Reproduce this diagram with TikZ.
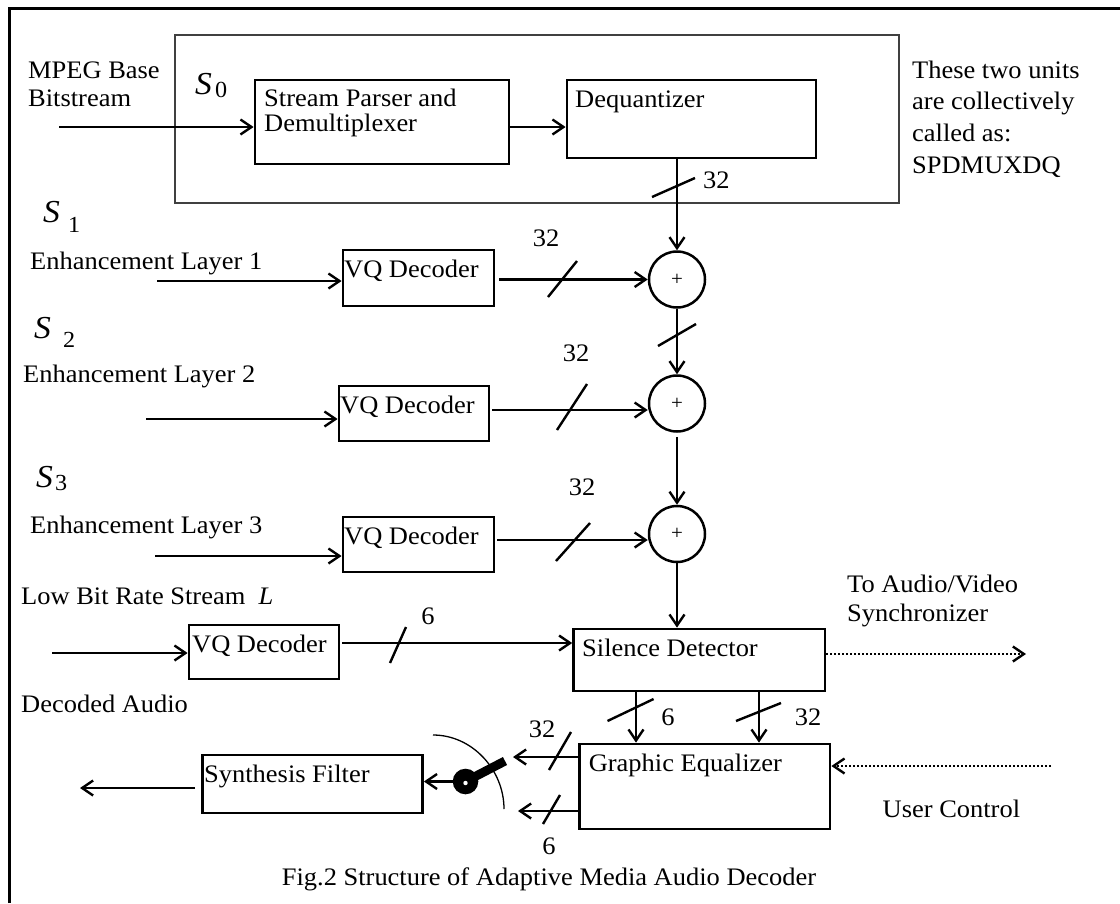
\documentclass[tikz,border=0pt]{standalone}
\usepackage{fontspec}
\setmainfont{Liberation Serif}[FakeStretch=1.05]
\usetikzlibrary{arrows.meta}
\newcommand\Slab[3]{{\itshape\fontsize{32}{32}\selectfont S}\kern#2\raisebox{#3}{\fontsize{23}{23}\selectfont #1}}
\begin{document}
\begin{tikzpicture}[x=1pt,y=-1pt,
  every node/.style={font=\fontsize{25.2}{30}\selectfont},
  box/.style={draw, line width=2.8pt, inner sep=0pt},
  sum/.style={draw, circle, line width=2.5pt, minimum size=56pt, inner sep=0pt, font=\fontsize{20}{20}\selectfont},
  txt/.style={anchor=base west, inner sep=0pt},
  lab/.style={anchor=center, inner sep=0pt},
  arr/.style={line width=2.4pt, -{Straight Barb[length=11pt,width=15pt,line width=2.4pt]}},
  dotarr/.style={line width=2.4pt, dash pattern=on 1.6pt off 2.4pt, -{Straight Barb[length=11pt,width=15pt,line width=2.4pt]}},
  slash/.style={line width=2.4pt},
]
\useasboundingbox (0,0) rectangle (1120,903);
\draw[line width=3pt] (9.5,903) -- (9.5,8.5) -- (1120,8.5);

% group box
\node[draw=black!75, line width=1.3pt, minimum width=724pt, minimum height=168pt, inner sep=0pt] (grp) at (537,119) {};

% top row
\node[box, minimum width=254pt, minimum height=84pt] (sp) at (382,122) {};
\node[txt] (sp1) at (264,106) {Stream Parser and};
\node[txt] (sp2) at (264,131) {Demultiplexer};
\node[box, minimum width=249pt, minimum height=78pt] (dq) at (691.5,119) {};
\node[txt] (dqt) at (575,107) {Dequantizer};

\node[txt] (mpeg1) at (28,78) {MPEG Base};
\node[txt] (mpeg2) at (28,106) {Bitstream};
\node[txt] (s0) at (195,94) {\Slab{0}{3pt}{-3pt}};

\node[txt] (n1) at (912,78) {These two units};
\node[txt] (n2) at (912,109.7) {are collectively};
\node[txt] (n3) at (912,141.4) {called as:};
\node[txt] (n4) at (912,173) {SPDMUXDQ};

% adders
\node[sum] (c1) at (677,279.5) {+};
\node[sum] (c2) at (677,403.5) {+};
\node[sum] (c3) at (677,534) {+};

% layer 1
\node[txt] (s1) at (43,222) {\Slab{1}{8pt}{-10pt}};
\node[txt] (e1) at (30,269) {Enhancement Layer 1};
\node[box, minimum width=151pt, minimum height=56pt] (vq1) at (418.5,278) {};
\node[txt] (vq1t) at (344,277) {VQ Decoder};

% layer 2
\node[txt] (s2) at (34,338) {\Slab{2}{12pt}{-9pt}};
\node[txt] (e2) at (23,382) {Enhancement Layer 2};
\node[box, minimum width=150pt, minimum height=55pt] (vq2) at (414,413.5) {};
\node[txt] (vq2t) at (340,413) {VQ Decoder};

% layer 3
\node[txt] (s3) at (36,487) {\Slab{3}{2pt}{-3pt}};
\node[txt] (e3) at (30,533) {Enhancement Layer 3};
\node[box, minimum width=151pt, minimum height=55pt] (vq3) at (418.5,544.5) {};
\node[txt] (vq3t) at (344,544) {VQ Decoder};

% low bit rate
\node[txt] (lb) at (21,604) {Low Bit Rate Stream\ \ \textit{L}};
\node[box, minimum width=150pt, minimum height=54pt] (vq4) at (264,652) {};
\node[txt] (vq4t) at (192,652) {VQ Decoder};
\node[txt] (da) at (21,712) {Decoded Audio};

% silence detector / equalizer / synthesis
\node[box, minimum width=251.4pt, minimum height=62pt] (sd) at (699.3,660) {};
\node[txt] (sdt) at (582,656) {Silence Detector};
\node[box, minimum width=250.4pt, minimum height=85pt] (ge) at (704.8,786.5) {};
\node[txt] (get) at (588.6,771) {Graphic Equalizer};
\node[box, minimum width=220pt, minimum height=58pt] (sf) at (312.5,784) {};
\node[txt] (sft) at (204,782) {Synthesis Filter};

\node[txt] (av1) at (847,592) {To Audio/Video};
\node[txt] (av2) at (847,621) {Synchronizer};
\node[txt] (ucl) at (882.5,817) {User Control};
\node[anchor=base, inner sep=0pt] (cap) at (549,885) {Fig.2 Structure of Adaptive Media Audio Decoder};

% connectors top
\coordinate (in0) at (59,127);
\draw[arr] (in0) -- (in0 -| sp.west);
\draw[arr] ([yshift=-5pt]sp.east) -- ([yshift=-5pt]sp.east -| dq.west);
\draw[arr] (dq.south -| c1.north) -- (c1.north);
\draw[slash] (652,197) -- (695,178);
\node[lab, anchor=west] (l0) at (703,180) {32};

% layer 1
\coordinate (in1) at (157,281);
\draw[arr] (in1) -- (in1 -| vq1.west);
\draw[arr] ([xshift=4pt]vq1.east |- c1.west) -- (c1.west);
\draw[slash] (548,297) -- (577,261);
\node[lab] (l1) at (546,238) {32};
\draw[arr] (c1.south) -- (c2.north);
\draw[slash] (658,346) -- (696,324);

% layer 2
\coordinate (in2) at (146,419);
\coordinate (y2) at (0,410);
\draw[arr] (in2) -- (in2 -| vq2.west);
\draw[arr] ([xshift=2pt]vq2.east |- y2) -- (c2.west |- y2);
\draw[slash] (557,430) -- (587,384);
\node[lab] (l2) at (576,353) {32};
\draw[arr] ([yshift=-4pt]c2.south) -- (c3.north);

% layer 3
\coordinate (in3) at (155,556);
\coordinate (y3) at (0,540);
\draw[arr] (in3) -- (in3 -| vq3.west);
\draw[arr] ([xshift=2pt]vq3.east |- y3) -- (c3.west |- y3);
\draw[slash] (556,561) -- (590,523);
\node[lab] (l3) at (582,487) {32};
\draw[arr] (c3.south) -- (c3.south |- sd.north);

% low bit rate
\coordinate (in4) at (52,653);
\coordinate (y4) at (0,643);
\draw[arr] (in4) -- (in4 -| vq4.west);
\draw[arr] ([xshift=2pt]vq4.east |- y4) -- (sd.west |- y4);
\draw[slash] (390,663) -- (406,627);
\node[lab] (l4) at (428,616) {6};

% to A/V
\coordinate (av) at (1026,654);
\draw[dotarr] (sd.east |- av) -- (av);

% SD -> GE
\coordinate (d6) at (636,0);
\coordinate (d32) at (759,0);
\draw[arr] (sd.south -| d6) -- (ge.north -| d6);
\draw[arr] (sd.south -| d32) -- (ge.north -| d32);
\draw[slash] (607.5,721) -- (653.6,699);
\draw[slash] (736,721) -- (781,703);
\node[lab] (l5) at (668,717) {6};
\node[lab] (l6) at (808,717) {32};

% user control
\coordinate (uc) at (1051,766);
\draw[dotarr] (uc) -- (uc -| ge.east);

% GE outputs
\coordinate (o32) at (513,757);
\coordinate (o6) at (518,811);
\draw[arr] (ge.west |- o32) -- (o32);
\draw[arr] (ge.west |- o6) -- (o6);
\draw[slash] (549,770) -- (571,732);
\draw[slash] (543,824) -- (560,795);
\node[lab] (l7) at (542,729) {32};
\node[lab] (l8) at (549,846) {6};

% switch
\draw[line width=1.3pt] (433,735) .. controls (472.2,735) and (504,769.8) .. (504,809);
\node[circle, fill=black, minimum size=25.6pt, inner sep=0pt] (sw) at (465.5,781.5) {};
\draw[line width=9pt] (sw.center) -- (505,761);
\fill[white] (465.5,783) circle (2.2pt);
\draw[arr] (sw.west) -- (sw.west -| sf.east);

% output
\coordinate (out) at (80,788);
\draw[arr] ([xshift=-6pt]sf.west |- out) -- (out);
\end{tikzpicture}
\end{document}
